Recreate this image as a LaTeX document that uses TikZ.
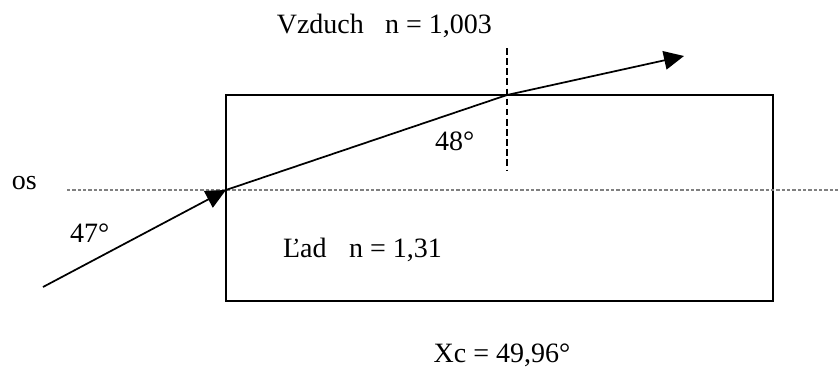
\documentclass[tikz,border=0pt]{standalone}
\usepackage{fontspec}
\setmainfont{Liberation Serif}
\usetikzlibrary{arrows.meta}
\tikzset{
  lbl/.style={inner sep=0pt, outer sep=0pt, font=\fontsize{21pt}{25pt}\selectfont},
  ray/.style={line width=1.3pt},
  rayarrow/.style={ray, -{Triangle[length=15pt,width=14pt]}},
  block/.style={line width=1.4pt},
  axisline/.style={draw=gray, line width=0.8pt, dash pattern=on 2.6pt off 1.4pt},
  normalline/.style={line width=1pt, dash pattern=on 5pt off 2.6pt}
}
\begin{document}
\begin{tikzpicture}[x=0.75pt,y=-0.75pt]
\useasboundingbox (0,0) rectangle (839,368);
% points
\coordinate (rectNW) at (226,95);
\coordinate (rectSE) at (773,301);
\coordinate (axisW) at (67,190);
\coordinate (axisE) at (839,190);
\coordinate (start) at (43,287);
\coordinate (entry) at (226,190);
\coordinate (exit) at (507,95);
\coordinate (tipend) at (684,56);
\coordinate (normT) at (507,48);
\coordinate (normB) at (507,170);
% block of ice
\draw[block] (rectNW) rectangle (rectSE);
% axis
\draw[axisline] (axisW) -- (axisE);
% normal
\draw[normalline] (normT) -- (normB);
% rays
\draw[rayarrow] (start) -- (entry);
\draw[ray] (entry) -- (exit);
\draw[rayarrow] (exit) -- (tipend);
% labels
\node[lbl, anchor=base east] (air) at (492,33) {Vzduch\hspace{16pt}n = 1,003};
\node[lbl, anchor=base west] (os) at (12,189) {os};
\node[lbl, anchor=base west] (a47) at (70,242) {47°};
\node[lbl, anchor=base west] (a48) at (435,150) {48°};
\node[lbl, anchor=base west] (ice) at (283,257) {Ľad\hspace{17pt}n = 1,31};
\node[lbl, anchor=base] (xc) at (502,362) {Xc = 49,96°};
\end{tikzpicture}
\end{document}
